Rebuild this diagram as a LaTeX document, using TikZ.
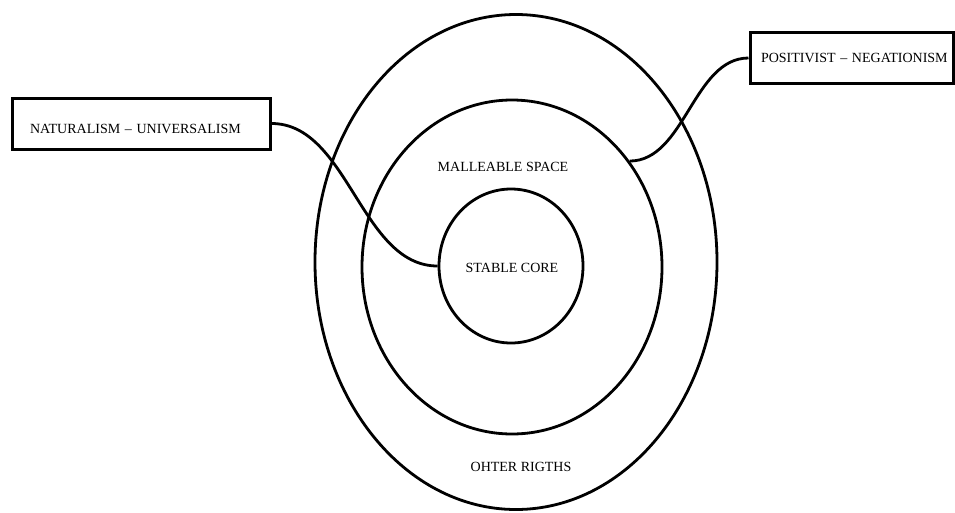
\documentclass[tikz,border=0pt]{standalone}
\usepackage{fontspec}
\setmainfont{Liberation Serif}
\usetikzlibrary{shapes.geometric}

\begin{document}
\begin{tikzpicture}[x=1pt,y=-1pt,
        ring/.style={draw,ellipse,line width=2.8pt,inner sep=0pt},
        tag/.style={draw,line width=3pt,rectangle,inner sep=0pt,text width=#1,align=left,minimum height=51pt},
        link/.style={line width=2.8pt,looseness=0.9},
        lbl/.style={font=\fontsize{14}{16}\selectfont}]
                \useasboundingbox (0,0) rectangle (955,512);
                \node[ring,minimum width=402pt,minimum height=495pt] (outer) at (516,262) {};
                \node[ring,minimum width=300pt,minimum height=334pt] (middle) at (512,267) {};
                \node[ring,minimum width=144pt,minimum height=154pt] (inner) at (511,266) {};
                \node[lbl] (core) at (512,268) {STABLE CORE};
                \node[lbl] (space) at (503,167) {MALLEABLE SPACE};
                \node[lbl] (other) at (521,467) {OHTER RIGTHS};
                \node[tag=258pt,lbl,text height=24pt,text depth=5pt] (natural) at (141,123.5) {\hspace*{18pt}NATURALISM -- UNIVERSALISM};
                \node[tag=203pt,lbl] (positive) at (851.5,58) {\hspace*{11pt}POSITIVIST -- NEGATIONISM};
                \draw[link] (natural.east) to[out=0,in=180] (inner.west);
                \draw[link] (middle.42) to[out=0,in=180] (positive.west);
            \end{tikzpicture}
\end{document}
